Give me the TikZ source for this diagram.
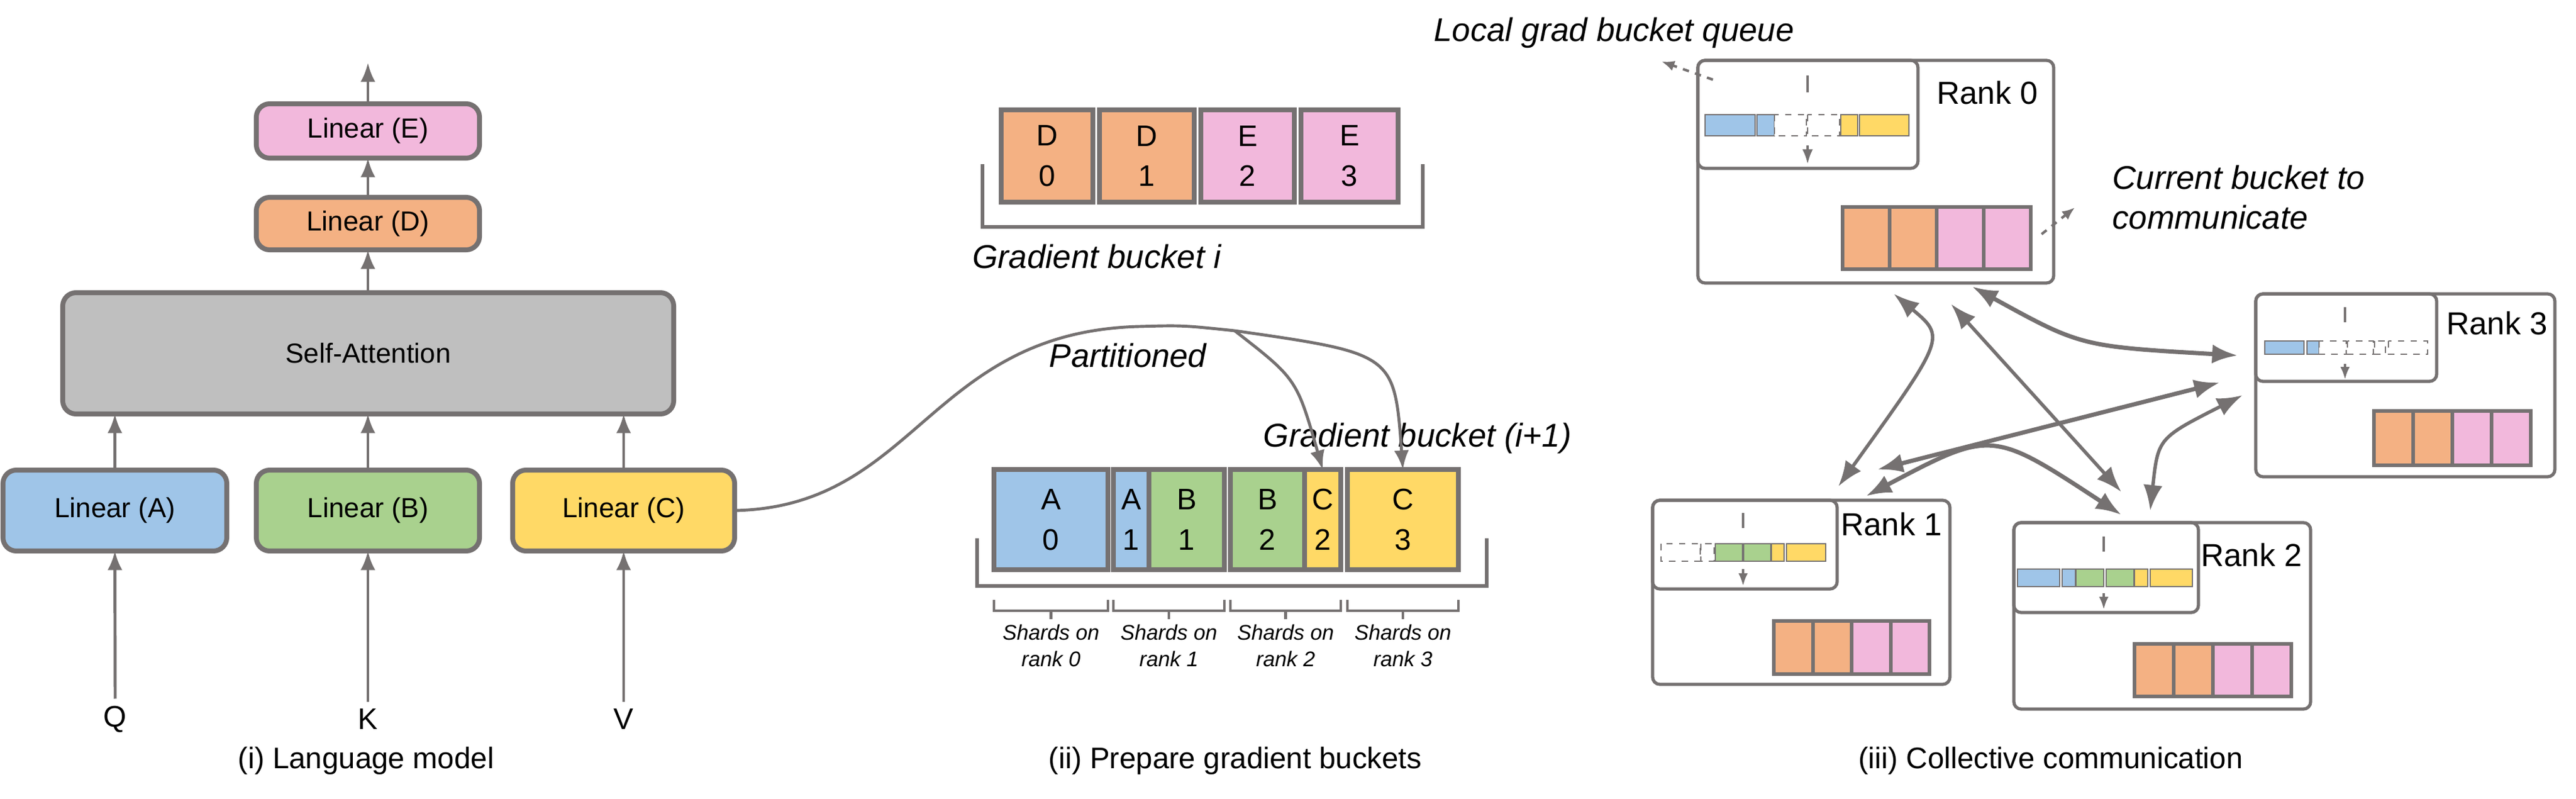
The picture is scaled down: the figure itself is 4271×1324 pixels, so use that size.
\documentclass[tikz,border=0pt]{standalone}
\usepackage{fontspec}
\setmainfont{Liberation Sans}
\usetikzlibrary{arrows.meta}
\definecolor{lg}{HTML}{757171}
\definecolor{cblue}{HTML}{9FC5E8}
\definecolor{cgreen}{HTML}{A9D18E}
\definecolor{cyellow}{HTML}{FFD966}
\definecolor{corange}{HTML}{F4B183}
\definecolor{cpink}{HTML}{F2B8DC}
\definecolor{cgray}{HTML}{BFBFBF}
\tikzset{
  lbox/.style={draw=lg,line width=2.3pt,rounded corners=0.22cm,inner sep=0,outer sep=0,font=\fontsize{13}{15}\selectfont},
  conn/.style={draw=lg,line width=1.4pt,-{Latex[length=9pt,width=7pt]}},
  rconn/.style={draw=lg,line width=1.6pt,{Latex[length=12pt,width=9pt]}-{Latex[length=12pt,width=9pt]}},
  bcell/.style={draw=lg,line width=2.3pt,inner sep=0,outer sep=0,align=center,font=\fontsize{14}{19}\selectfont},
  rcell/.style={draw=lg,line width=1.6pt,inner sep=0,outer sep=0},
  qseg/.style={draw=lg,line width=0.6pt},
  qdash/.style={draw=lg,line width=0.6pt,dashed,fill=white},
  rbox/.style={draw=lg,line width=1.5pt,rounded corners=0.12cm},
  ital/.style={font=\fontsize{15.5}{19}\selectfont\itshape},
  captxt/.style={font=\fontsize{14}{17}\selectfont},
  rlab/.style={font=\fontsize{15}{18}\selectfont},
}
\newcommand\mycell[8]{\node[#7,fill=#6,minimum width={(#3-#2)*0.01cm},minimum height={(#5-#4)*0.01cm}] (#1) at ({(#2+#3)/2},{(#4+#5)/2}) {#8};}
\newcommand\myseg[5]{\draw[#5] (#1,#3) rectangle (#2,#4);}
\begin{document}
\begin{tikzpicture}[x=0.01cm,y=-0.01cm]
\useasboundingbox (0,0) rectangle (4271,1324);
% ---------- (i) Language model
\mycell{la}{5}{376}{779}{913}{cblue}{lbox}{Linear (A)}
\mycell{lb}{425}{795}{779}{913}{cgreen}{lbox}{Linear (B)}
\mycell{lc}{850}{1218}{779}{913}{cyellow}{lbox}{Linear (C)}
\mycell{sa}{104}{1117}{485}{686}{cgray}{lbox}{Self-Attention}
\mycell{ld}{425}{795}{327}{414}{corange}{lbox}{Linear (D)}
\mycell{le}{425}{795}{172}{262}{cpink}{lbox}{Linear (E)}
\node[font=\fontsize{14}{17}\selectfont] (q) at (191,1192) {Q};
\node[font=\fontsize{14}{17}\selectfont] (k) at (610,1192) {K};
\node[font=\fontsize{14}{17}\selectfont] (v) at (1034,1192) {V};
\draw[conn] (q.north) -- (la.south);
\draw[conn] (k.north) -- (lb.south);
\draw[conn] (v.north) -- (lc.south);
\draw[conn] (la.north) -- (la.north|-sa.south);
\draw[conn] (lb.north) -- (lb.north|-sa.south);
\draw[conn] (lc.north) -- (lc.north|-sa.south);
\draw[conn] (ld.north|-sa.north) -- (ld.south);
\draw[conn] (ld.north) -- (le.south);
\coordinate (top) at (610,104);
\draw[conn] (le.north) -- (top);
\node[captxt] (cap1) at (607,1261) {(i) Language model};
% ---------- (ii) buckets
\mycell{d0}{1660}{1812}{182}{335}{corange}{bcell}{D\\0}
\mycell{d1}{1823}{1980}{182}{335}{corange}{bcell}{D\\1}
\mycell{e2}{1991}{2146}{182}{335}{cpink}{bcell}{E\\2}
\mycell{e3}{2157}{2318}{182}{335}{cpink}{bcell}{E\\3}
\draw[lg,line width=1.8pt] (1629,272) -- (1629,376) -- (2359,376) -- (2359,272);
\node[ital,anchor=west] (gbi) at (1600,425) {Gradient bucket \textit{i}};
\mycell{a0}{1648}{1837}{778}{944}{cblue}{bcell}{A\\0}
\mycell{a1}{1846}{1905}{778}{944}{cblue}{bcell}{A\\1}
\mycell{b1}{1905}{2030}{778}{944}{cgreen}{bcell}{B\\1}
\mycell{b2}{2040}{2163}{778}{944}{cgreen}{bcell}{B\\2}
\mycell{c2}{2163}{2223}{778}{944}{cyellow}{bcell}{C\\2}
\mycell{c3}{2234}{2418}{778}{944}{cyellow}{bcell}{C\\3}
\draw[lg,line width=1.8pt] (1620,892) -- (1620,971) -- (2465,971) -- (2465,892);
\foreach \xa/\xb/\r in {1648/1837/0,1846/2030/1,2040/2223/2,2234/2418/3}{
  \draw[lg,line width=1.2pt] (\xa,994) -- (\xa,1012) -- (\xb,1012) -- (\xb,994);
  \draw[lg,line width=1.2pt] ({(\xa+\xb)/2},1012) -- ({(\xa+\xb)/2},1026);
  \node[font=\fontsize{10}{12.5}\selectfont\itshape,align=center] (sh\r) at ({(\xa+\xb)/2},1070) {Shards on\\rank \r};
}
\node[ital] (part) at (1870,589) {Partitioned};
\node[ital] (gbi1) at (2350,726) {Gradient bucket (i+1)};
\coordinate (split) at (2047,548);
\draw[lg,line width=1.4pt] (lc.east) .. controls (1520,840) and (1540,550) .. (1889,541) .. controls (1960,539) .. (split);
\draw[conn] (split) .. controls (2150,628) .. (c2.north);
\draw[conn] (split) .. controls (2312,586) .. (c3.north);
\node[captxt] (cap2) at (2048,1261) {(ii) Prepare gradient buckets};
% ---------- (iii) ranks
% Rank 0
\draw[rbox] (2815,100) rectangle (3405,469);
\draw[rbox] (2815,100) rectangle (3180,279);
\node[rlab] (r0l) at (3295,154) {Rank 0};
\draw[lg,line width=1.3pt,dash pattern=on 8pt off 7pt] (2997,125) -- (2997,172);
\draw[conn,line width=1.1pt,-{Latex[length=7pt,width=5pt]}] (2997,241) -- (2997,272);
\myseg{2827}{2910}{190}{225}{qseg,fill=cblue}
\myseg{2913}{2942}{190}{225}{qseg,fill=cblue}
\myseg{2942}{2995}{190}{225}{qdash}
\myseg{2997}{3050}{190}{225}{qdash}
\myseg{3052}{3080}{190}{225}{qseg,fill=cyellow}
\myseg{3083}{3165}{190}{225}{qseg,fill=cyellow}
\mycell{r0a}{3055}{3133}{343}{446}{corange}{rcell}{}
\mycell{r0b}{3133}{3211}{343}{446}{corange}{rcell}{}
\mycell{r0c}{3211}{3289}{343}{446}{cpink}{rcell}{}
\mycell{r0d}{3289}{3367}{343}{446}{cpink}{rcell}{}
% Rank 3
\draw[rbox] (3740,487) rectangle (4236,790);
\draw[rbox] (3740,487) rectangle (4040,632);
\node[rlab] (r3l) at (4140,536) {Rank 3};
\draw[lg,line width=1.3pt,dash pattern=on 7pt off 6pt] (3888,509) -- (3888,545);
\draw[conn,line width=1.1pt,-{Latex[length=6pt,width=4.5pt]}] (3888,603) -- (3888,629);
\myseg{3755}{3820}{565}{587}{qseg,fill=cblue}
\myseg{3825}{3845}{565}{587}{qseg,fill=cblue}
\myseg{3845}{3890}{565}{587}{qdash}
\myseg{3892}{3935}{565}{587}{qdash}
\myseg{3937}{3955}{565}{587}{qdash}
\myseg{3960}{4025}{565}{587}{qdash}
\mycell{r3a}{3936}{4001}{681}{771}{corange}{rcell}{}
\mycell{r3b}{4001}{4066}{681}{771}{corange}{rcell}{}
\mycell{r3c}{4066}{4131}{681}{771}{cpink}{rcell}{}
\mycell{r3d}{4131}{4196}{681}{771}{cpink}{rcell}{}
% Rank 1
\draw[rbox] (2740,829) rectangle (3233,1134);
\draw[rbox] (2740,829) rectangle (3046,976);
\node[rlab] (r1l) at (3136,869) {Rank 1};
\draw[lg,line width=1.3pt,dash pattern=on 7pt off 6pt] (2890,850) -- (2890,889);
\draw[conn,line width=1.1pt,-{Latex[length=6pt,width=4.5pt]}] (2890,943) -- (2890,971);
\myseg{2754}{2819}{901}{930}{qdash}
\myseg{2820}{2842}{901}{930}{qdash}
\myseg{2844}{2889}{901}{930}{qseg,fill=cgreen}
\myseg{2891}{2936}{901}{930}{qseg,fill=cgreen}
\myseg{2937}{2958}{901}{930}{qseg,fill=cyellow}
\myseg{2962}{3027}{901}{930}{qseg,fill=cyellow}
\mycell{r1a}{2941}{3006}{1029}{1117}{corange}{rcell}{}
\mycell{r1b}{3006}{3070}{1029}{1117}{corange}{rcell}{}
\mycell{r1c}{3070}{3135}{1029}{1117}{cpink}{rcell}{}
\mycell{r1d}{3135}{3199}{1029}{1117}{cpink}{rcell}{}
% Rank 2
\draw[rbox] (3339,866) rectangle (3831,1175);
\draw[rbox] (3339,866) rectangle (3645,1015);
\node[rlab] (r2l) at (3733,920) {Rank 2};
\draw[lg,line width=1.3pt,dash pattern=on 7pt off 6pt] (3488,889) -- (3488,927);
\draw[conn,line width=1.1pt,-{Latex[length=6pt,width=4.5pt]}] (3488,983) -- (3488,1010);
\myseg{3345}{3415}{943}{972}{qseg,fill=cblue}
\myseg{3419}{3441}{943}{972}{qseg,fill=cblue}
\myseg{3442}{3488}{943}{972}{qseg,fill=cgreen}
\myseg{3492}{3538}{943}{972}{qseg,fill=cgreen}
\myseg{3539}{3561}{943}{972}{qseg,fill=cyellow}
\myseg{3565}{3635}{943}{972}{qseg,fill=cyellow}
\mycell{r2a}{3539}{3604}{1067}{1154}{corange}{rcell}{}
\mycell{r2b}{3604}{3669}{1067}{1154}{corange}{rcell}{}
\mycell{r2c}{3669}{3734}{1067}{1154}{cpink}{rcell}{}
\mycell{r2d}{3734}{3799}{1067}{1154}{cpink}{rcell}{}
% connectors between ranks
\coordinate (p01a) at (3140,487); \coordinate (p01b) at (3048,806);
\coordinate (p02a) at (3235,504); \coordinate (p02b) at (3517,815);
\coordinate (p03a) at (3270,475); \coordinate (p03b) at (3710,589);
\coordinate (p13a) at (3113,778); \coordinate (p13b) at (3680,634);
\coordinate (p12a) at (3094,822); \coordinate (p12b) at (3517,853);
\coordinate (p23a) at (3565,846); \coordinate (p23b) at (3718,655);
\draw[rconn] (p01a) .. controls (3226,559) .. (p01b);
\draw[rconn] (p02a) -- (p02b);
\draw[rconn,line width=2pt] (p03a) .. controls (3450,574) .. (p03b);
\draw[rconn,line width=2pt] (p13a) -- (p13b);
\draw[rconn,line width=2pt] (p12a) .. controls (3302,712) .. (p12b);
\draw[rconn] (p23a) .. controls (3578,726) .. (p23b);
% annotations
\node[ital,anchor=west] (lq) at (2365,54) {Local grad bucket queue};
\node[ital,anchor=west,align=left] (cb) at (3490,327) {Current bucket to\\communicate};
\coordinate (dq1) at (2840,132); \coordinate (dq2) at (2755,102);
\coordinate (dc1) at (3385,388); \coordinate (dc2) at (3440,344);
\draw[conn,line width=1.2pt,dashed,-{Latex[length=6pt,width=5pt]}] (dq1) -- (dq2);
\draw[conn,line width=1.2pt,dashed,-{Latex[length=6pt,width=5pt]}] (dc1) -- (dc2);
\node[captxt] (cap3) at (3400,1261) {(iii) Collective communication};
\end{tikzpicture}
\end{document}
